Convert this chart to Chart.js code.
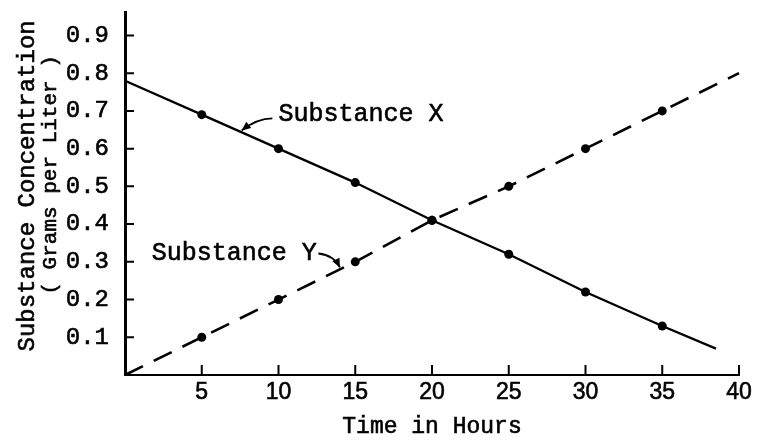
<!DOCTYPE html>
<html>
<head>
<meta charset="utf-8">
<title>Substance Concentration</title>
<script src="https://cdn.jsdelivr.net/npm/chart.js@4.4.1/dist/chart.umd.min.js"></script>
<style>
  html, body { margin: 0; padding: 0; background: #fff; }
  #wrap { width: 767px; height: 441px; position: relative; }
</style>
</head>
<body>
<div id="wrap"><canvas id="concChart"></canvas></div>
<script>
// Concentration readings (grams per liter) against elapsed hours
const hoursX = [0, 5, 10, 15, 20, 25, 30, 35, 38.5];
const substanceX = [0.78, 0.69, 0.60, 0.51, 0.41, 0.32, 0.22, 0.13, 0.07];
const hoursY = [0, 5, 10, 15, 20, 25, 30, 35, 40];
const substanceY = [0, 0.10, 0.20, 0.30, 0.41, 0.50, 0.60, 0.70, 0.80];

const xTickLabels = ['5', '10', '15', '20', '25', '30', '35', '40'];
const yTickLabels = ['0.1', '0.2', '0.3', '0.4', '0.5', '0.6', '0.7', '0.8', '0.9'];
const seriesNames = ['Substance X', 'Substance Y'];
const yTitleLines = ['Substance Concentration', '( Grams per Liter )'];
const xTitle = 'Time in Hours';

const MONO = '"Liberation Mono", "Courier New", monospace';
const INK = 0.6; // extra stroke so the thin mono glyphs read heavier

// first and last entries are just line ends, no dot
const dotsInside = (c) =>
    (c.dataIndex === 0 || c.dataIndex === c.dataset.data.length - 1) ? 0 : 4.5;

const inkText = (ctx, text, x, y) => {
    ctx.fillText(text, x, y);
    ctx.lineWidth = INK;
    ctx.strokeText(text, x, y);
};

// Short tick marks pointing into the plot area
const innerTicks = {
    id: 'innerTicks',
    afterDraw(chart) {
        const { ctx, scales: { x, y } } = chart;
        ctx.save();
        ctx.strokeStyle = '#000';
        ctx.lineWidth = 2;
        ctx.beginPath();
        xTickLabels.forEach(t => {
            const px = x.getPixelForValue(Number(t));
            ctx.moveTo(px, x.top);
            ctx.lineTo(px, x.top - 10);
        });
        yTickLabels.forEach(t => {
            const py = y.getPixelForValue(Number(t));
            ctx.moveTo(y.right, py);
            ctx.lineTo(y.right + 9, py);
        });
        ctx.stroke();
        ctx.restore();
    }
};

// Axis titles: two rotated lines on the left, one line under the hours
const axisTitles = {
    id: 'axisTitles',
    afterDraw(chart) {
        const { ctx, scales: { x, y } } = chart;
        ctx.save();
        ctx.fillStyle = '#000';
        ctx.strokeStyle = '#000';
        ctx.textAlign = 'center';
        ctx.textBaseline = 'middle';

        ctx.font = '23px ' + MONO;
        inkText(ctx, xTitle, (x.left + x.right) / 2, x.bottom - 14);

        ctx.translate(28, (y.top + y.bottom) / 2 - 8);
        ctx.rotate(-Math.PI / 2);
        ctx.font = '24px ' + MONO;
        inkText(ctx, yTitleLines[0], 0, 0);
        ctx.font = '21px ' + MONO;
        inkText(ctx, yTitleLines[1], 11, 22);
        ctx.restore();
    }
};

// curved leader with a small arrowhead at the tip
const drawLeader = (ctx, start, ctrl, tip) => {
    ctx.lineWidth = 1.8;
    ctx.beginPath();
    ctx.moveTo(start[0], start[1]);
    ctx.quadraticCurveTo(ctrl[0], ctrl[1], tip[0], tip[1]);
    ctx.stroke();
    const ang = Math.atan2(tip[1] - ctrl[1], tip[0] - ctrl[0]);
    const len = 9, half = 4;
    ctx.beginPath();
    ctx.moveTo(tip[0], tip[1]);
    ctx.lineTo(tip[0] - len * Math.cos(ang) + half * Math.sin(ang),
               tip[1] - len * Math.sin(ang) - half * Math.cos(ang));
    ctx.lineTo(tip[0] - len * Math.cos(ang) - half * Math.sin(ang),
               tip[1] - len * Math.sin(ang) + half * Math.cos(ang));
    ctx.closePath();
    ctx.fill();
};

// Series names written next to the lines, with pointers
const curveLabels = {
    id: 'curveLabels',
    afterDatasetsDraw(chart) {
        const { ctx, scales: { x, y } } = chart;
        const p = (h, c) => [x.getPixelForValue(h), y.getPixelForValue(c)];
        ctx.save();
        ctx.fillStyle = '#000';
        ctx.strokeStyle = '#000';
        ctx.font = '25px ' + MONO;
        ctx.textBaseline = 'middle';

        ctx.textAlign = 'left';
        const [lx, ly] = p(10, 0.69);
        inkText(ctx, seriesNames[0], lx, ly);
        drawLeader(ctx, p(9.6, 0.68), p(8.6, 0.68), p(7.6, 0.648));

        ctx.textAlign = 'right';
        const [rx, ry] = p(12.5, 0.322);
        inkText(ctx, seriesNames[1], rx, ry);
        drawLeader(ctx, p(12.6, 0.322), p(13.6, 0.318), p(14.0, 0.285));
        ctx.restore();
    }
};

new Chart(document.getElementById('concChart'), {
    type: 'line',
    data: {
        datasets: [
            {
                label: seriesNames[0],
                data: hoursX.map((h, i) => ({ x: h, y: substanceX[i] })),
                borderColor: '#000',
                borderWidth: 2.3,
                pointRadius: dotsInside,
                pointBackgroundColor: '#000',
                pointBorderWidth: 0,
                tension: 0,
                clip: false
            },
            {
                label: seriesNames[1],
                data: hoursY.map((h, i) => ({ x: h, y: substanceY[i] })),
                borderColor: '#000',
                borderWidth: 2.6,
                borderDash: [20, 12],
                pointRadius: dotsInside,
                pointBackgroundColor: '#000',
                pointBorderWidth: 0,
                tension: 0,
                clip: false
            }
        ]
    },
    options: {
        responsive: true,
        maintainAspectRatio: false,
        animation: false,
        layout: { padding: { top: 6, right: 28, bottom: 0, left: 0 } },
        plugins: {
            legend: { display: false },
            tooltip: { enabled: false }
        },
        scales: {
            x: {
                type: 'linear',
                min: 0,
                max: 40,
                grid: { display: false },
                border: { display: true, color: '#000', width: 2 },
                afterBuildTicks(scale) {
                    scale.ticks = xTickLabels.map(t => ({ value: Number(t) }));
                },
                ticks: {
                    padding: -4,
                    color: '#000',
                    textStrokeColor: '#000',
                    textStrokeWidth: INK,
                    maxRotation: 0,
                    autoSkip: false,
                    font: { family: '"Liberation Sans Narrow", "Liberation Sans", sans-serif', size: 23 },
                    callback: (v) => String(v)
                },
                afterFit(scale) { scale.height = 66; }
            },
            y: {
                min: 0,
                max: 0.96,
                grid: { display: false },
                border: { display: true, color: '#000', width: 3 },
                afterBuildTicks(scale) {
                    scale.ticks = yTickLabels.map(t => ({ value: Number(t) }));
                },
                ticks: {
                    padding: 8,
                    color: '#000',
                    textStrokeColor: '#000',
                    textStrokeWidth: INK,
                    font: { family: MONO, size: 24, lineHeight: 0.4 },
                    callback: (v) => Number(v).toFixed(1)
                },
                afterFit(scale) { scale.width = 125; }
            }
        }
    },
    plugins: [innerTicks, axisTitles, curveLabels]
});
</script>
</body>
</html>
